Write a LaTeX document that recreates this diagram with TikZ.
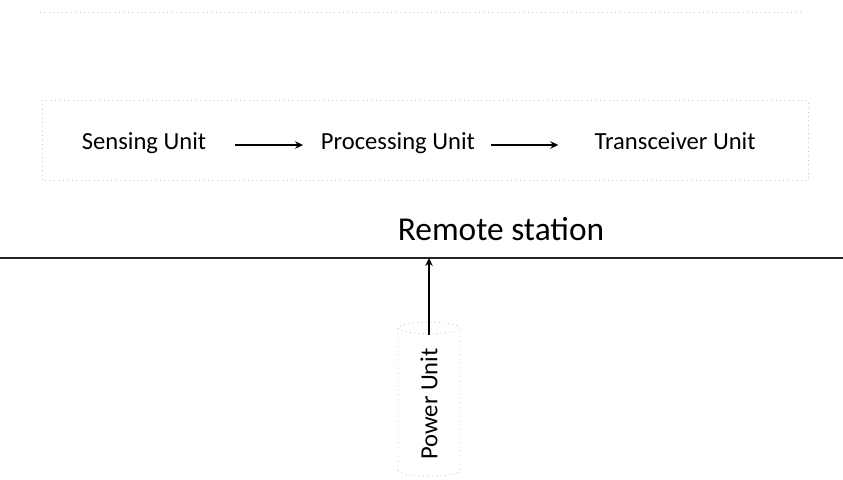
\documentclass[tikz,border=0pt]{standalone}
\usepackage{fontspec}
\setmainfont{Carlito}
\usetikzlibrary{shapes.geometric, arrows.meta, positioning}

\begin{document}
\begin{tikzpicture}[
    x=0.02cm, y=-0.02cm,
    node distance=2.2cm,
    unit/.style={font=\fontsize{14}{17}\selectfont, inner sep=2pt, text height=0.7em, text depth=0.22em},
    arrow/.style={-{Stealth[length=1.6mm, width=1.5mm]}, line width=0.6pt},
    faint/.style={draw=gray!45, dotted, line width=0.5pt}
]
\useasboundingbox (0,0) rectangle (843,480);

% Faint frames
\draw[faint] (40,12) -- (800,12);
\draw[faint] (42,100) rectangle (808,180);

% Row of units
\node[unit] (sensing) at (144,145) {Sensing Unit};
\node[unit, right=2.14cm of sensing] (processing) {Processing Unit};
\node[unit, right=2.24cm of processing] (transceiver) {Transceiver Unit};

% Arrows along the row
\draw[arrow, shorten <=0.5cm, shorten >=0.28cm] (sensing) -- (processing);
\draw[arrow, shorten <=0.25cm, shorten >=0.65cm] (processing) -- (transceiver);

% Station label and base line
\node[font=\fontsize{19}{23}\selectfont] (remote) at (501,229) {Remote station};
\coordinate (lineL) at (0,258);
\coordinate (lineR) at (843,258);
\draw[line width=0.6pt, black!85] (lineL) -- (lineR);

% Power unit
\node[cylinder, rotate=90, faint, aspect=0.4, minimum height=3.08cm, minimum width=1.24cm,
      font=\fontsize{14}{17}\selectfont] (power) at (429,404) {Power Unit};
\coordinate (ptop) at ([yshift=-0.26cm]power.east);
\draw[arrow] (ptop) -- (ptop |- lineL);

\end{tikzpicture}
\end{document}
